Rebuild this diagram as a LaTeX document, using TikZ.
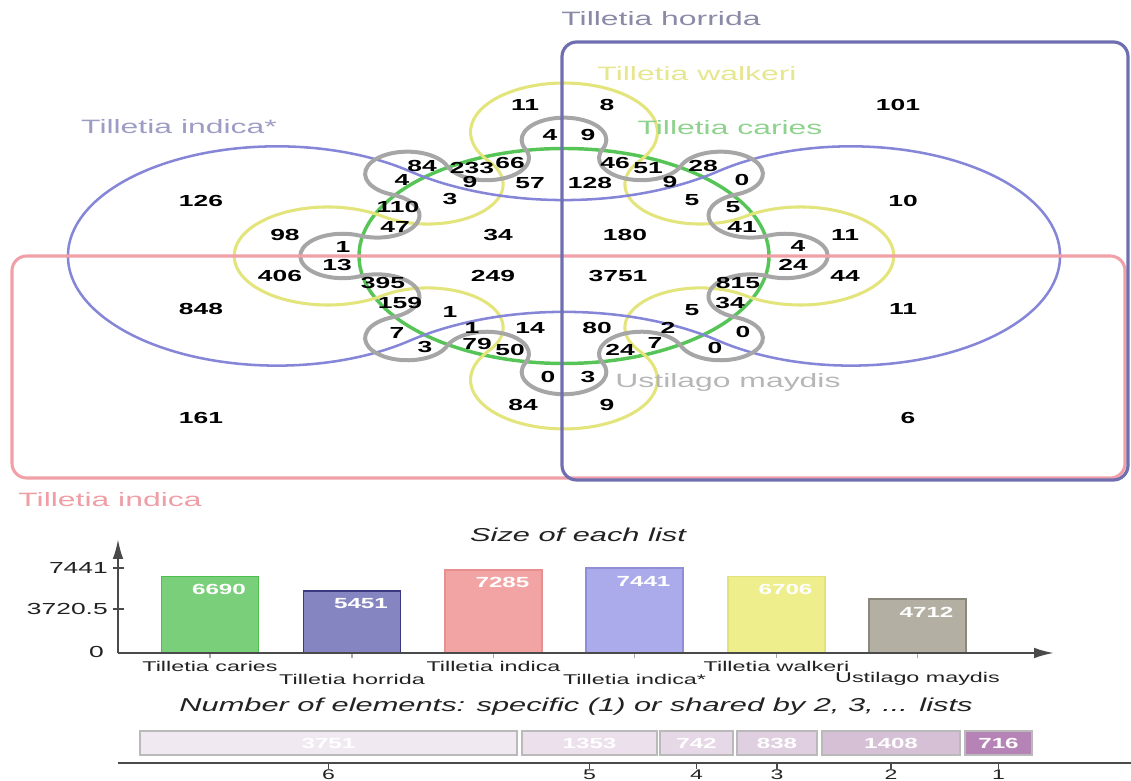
\documentclass[tikz,border=0pt]{standalone}
\usepackage{fontspec}
\setmainfont{Liberation Sans}
\newfontfamily\sfst[FakeStretch=1.65]{Liberation Sans}
\usetikzlibrary{arrows.meta}
\definecolor{horrC}{HTML}{6E6EB0}
\definecolor{indC}{HTML}{F0A0A6}
\definecolor{indsC}{HTML}{8686D8}
\definecolor{carC}{HTML}{56C456}
\definecolor{walC}{HTML}{E4E47C}
\definecolor{mayC}{HTML}{A6A6A6}
\definecolor{txtC}{HTML}{222222}
\definecolor{axC}{HTML}{4A4A4A}
\definecolor{lhorrC}{HTML}{8A8AA6}
\definecolor{lindsC}{HTML}{9C9CC4}
\definecolor{lwalC}{HTML}{E6E68E}
\definecolor{lcarC}{HTML}{8ED28E}
\definecolor{lindC}{HTML}{EE9EA4}
\definecolor{lmayC}{HTML}{B6B6B6}
\begin{document}
\begin{tikzpicture}[x=0.75pt,y=0.75pt,
  num/.style={font=\sfst\bfseries\fontsize{12}{14}\selectfont, inner sep=0pt, text=black},
  lab/.style={font=\sfst\fontsize{14.5}{16}\selectfont, inner sep=0pt},
  ttl/.style={font=\sfst\itshape\fontsize{14}{16}\selectfont, inner sep=0pt, text=txtC},
  tick/.style={font=\sfst\fontsize{12}{14}\selectfont, inner sep=0pt, text=txtC},
  xlab/.style={font=\sfst\fontsize{10.6}{12}\selectfont, inner sep=0pt, text=txtC},
  bval/.style={font=\sfst\bfseries\fontsize{11}{13}\selectfont, inner sep=0pt, text=white},
  axisline/.style={draw=axC, line width=1.6pt},
  seg/.style={draw=black!27, line width=0.8pt}]
\useasboundingbox (0,0) rectangle (1131,781);
\clip (0,0) rectangle (1131,781);

% ---------------- Venn shapes ----------------
\begin{scope}[shift={(564,525)}, xscale=205, yscale=107.5]
  % Tilletia caries (green circle)
  \draw[carC, line width=2.6pt] (0,0) circle (1);
  % Tilletia walkeri (yellow, 4 periods)
  \draw[walC, line width=2.3pt] (0,1.153) ++(216.17:0.456)
    arc[start angle=216.17, end angle=-36.17, radius=0.456]
    arc[start angle=143.83, end angle=306.17, radius=0.369]
    arc[start angle=126.17, end angle=-126.17, radius=0.456]
    arc[start angle=53.83, end angle=216.17, radius=0.369]
    arc[start angle=36.17, end angle=-216.17, radius=0.456]
    arc[start angle=-36.17, end angle=126.17, radius=0.369]
    arc[start angle=-53.83, end angle=-306.17, radius=0.456]
    arc[start angle=-126.17, end angle=36.17, radius=0.369] -- cycle;
  % Tilletia indica* (blue dumbbell)
  \draw[indsC, line width=1.9pt] (0,1.71) ++(230.69:1.19)
    arc[start angle=230.69, end angle=309.31, radius=1.19]
    arc[start angle=129.31, end angle=-129.31, radius=1.02]
    arc[start angle=50.69, end angle=129.31, radius=1.19]
    arc[start angle=309.31, end angle=50.69, radius=1.02] -- cycle;
  % Ustilago maydis (gray, 8 periods)
  \draw[mayC, line width=3pt] (0,1.08) ++(204.03:0.2067)
    arc[start angle=204.03, end angle=-24.03, radius=0.2067]
    arc[start angle=155.97, end angle=339.03, radius=0.2067]
    arc[start angle=159.03, end angle=-69.03, radius=0.2067]
    arc[start angle=110.97, end angle=294.03, radius=0.2067]
    arc[start angle=114.03, end angle=-114.03, radius=0.2067]
    arc[start angle=65.97, end angle=249.03, radius=0.2067]
    arc[start angle=69.03, end angle=-159.03, radius=0.2067]
    arc[start angle=20.97, end angle=204.03, radius=0.2067]
    arc[start angle=24.03, end angle=-204.03, radius=0.2067]
    arc[start angle=-24.03, end angle=159.03, radius=0.2067]
    arc[start angle=-20.97, end angle=-249.03, radius=0.2067]
    arc[start angle=-69.03, end angle=114.03, radius=0.2067]
    arc[start angle=-65.97, end angle=-294.03, radius=0.2067]
    arc[start angle=-114.03, end angle=69.03, radius=0.2067]
    arc[start angle=-110.97, end angle=-339.03, radius=0.2067]
    arc[start angle=-159.03, end angle=24.03, radius=0.2067] -- cycle;
\end{scope}
% Tilletia indica (red rectangle)
\draw[indC, line width=2.3pt, rounded corners=11pt] (12,303) rectangle (1125,525);
% Tilletia horrida (purple rectangle)
\draw[horrC, line width=2.4pt, rounded corners=11pt] (562,301) rectangle (1128,739);

% ---------------- set labels ----------------
\node[lab, text=lhorrC] (lhorr) at (661,762) {Tilletia horrida};
\node[lab, text=lwalC] (lwal) at (697,707) {Tilletia walkeri};
\node[lab, text=lcarC] (lcar) at (730,653) {Tilletia caries};
\node[lab, text=lindsC] (linds) at (179,654) {Tilletia indica*};
\node[lab, text=lindC] (lind) at (110,281) {Tilletia indica};
\node[lab, text=lmayC] (lmay) at (728,398) {Ustilago maydis};

% ---------------- region counts ----------------
\foreach \t/\x/\y [count=\i] in {126/201/580, 11/525/676, 8/607/676, 101/898/676,
  4/550/646, 9/588/646, 84/422/615, 233/472/613, 66/510/618, 46/615/618, 51/648/613,
  28/703/615, 4/402/601, 9/470/599, 57/530/598, 128/590/598, 9/670/599, 0/742/601,
  3/450/582, 5/692/581, 110/398/574, 5/733/574, 10/903/580, 47/395/554, 41/742/554,
  34/498/546, 180/625/546, 98/285/546, 11/845/546, 1/343/534, 4/798/535, 13/337/516,
  24/793/516, 406/280/505, 249/493/505, 3751/618/505, 44/845/505, 395/383/498,
  815/738/498, 159/400/478, 34/730/478, 848/201/472, 11/903/472, 1/450/469, 5/692/471,
  7/397/448, 0/743/449, 1/472/453, 2/668/453, 14/530/453, 80/597/453, 3/425/434,
  79/477/437, 50/510/431, 7/655/438, 24/620/431, 0/715/433, 0/548/404, 3/588/404,
  84/523/376, 9/607/376, 161/201/363, 6/908/363}
  \node[num] (v\i) at (\x,\y) {\t};

% ---------------- bar chart: size of each list ----------------
\node[ttl] (t1) at (578,246) {Size of each list};
\coordinate (org) at (118,128);
\coordinate (ytop) at (118,242);
\coordinate (xend) at (1054,128);
\foreach \c/\v/\h/\f/\d [count=\i] in {210/6690/76.42/7ACF7A/4DBF4D, 352/5451/62.27/8585C2/3A3A80,
  493.5/7285/83.22/F2A3A3/E89090, 634.5/7441/85/ABABEB/8F8FD6,
  776.5/6706/76.60/EEEE8C/E2E27A, 917.5/4712/53.83/B3AFA3/8A877D}{
  \definecolor{bf}{HTML}{\f}\definecolor{bd}{HTML}{\d}
  \filldraw[fill=bf, draw=bd, line width=1.3pt] (\c-48.5,128) rectangle (\c+48.5,128+\h);
  \node[bval] (bv\i) at (\c+9,128+\h-13) {\v};
  \draw[black!35, line width=0.8pt] (\c,128) -- (\c,123);
}
\draw[axisline, -{Latex[length=15pt,width=8pt]}] (org) -- (ytop);
\draw[axisline, -{Latex[length=15pt,width=8pt]}] (org) -- (xend);
\foreach \yy in {213,172}
  \draw[axC, line width=0.9pt] (113,\yy) -- (124,\yy);
\node[tick, anchor=east] (y1) at (108,213) {7441};
\node[tick, anchor=east] (y2) at (108,172) {3720.5};
\node[tick, anchor=east] (y3) at (104,129) {0};
\node[xlab] (x1) at (210,115) {Tilletia caries};
\node[xlab] (x2) at (352,102) {Tilletia horrida};
\node[xlab] (x3) at (493.5,115) {Tilletia indica};
\node[xlab] (x4) at (634.5,102) {Tilletia indica*};
\node[xlab] (x5) at (776.5,115) {Tilletia walkeri};
\node[xlab] (x6) at (917.5,102) {Ustilago maydis};

% ---------------- stacked bar: number of elements ----------------
\node[ttl] (t2) at (576,74) {Number of elements: specific (1) or shared by 2, 3, ... lists};
\foreach \a/\b/\v/\f/\k [count=\i] in {140/517/3751/F1E9F1/6, 522/657/1353/ECE0EC/5,
  660/733/742/E6D8E6/4, 737/817/838/E0CFE0/3, 822/960/1408/D6C0D6/2, 965/1032/716/B583B5/1}{
  \definecolor{sf}{HTML}{\f}
  \filldraw[seg, fill=sf] (\a,26) rectangle (\b,50);
  \node[bval] (s\i) at ({(\a+\b)/2},38) {\v};
  \draw[axC, line width=0.9pt] ({(\a+\b)/2},18) -- ({(\a+\b)/2},12);
  \node[tick, font=\sfst\fontsize{10.5}{12}\selectfont] (k\i) at ({(\a+\b)/2},6) {\k};
}
\coordinate (b0) at (118,18);
\coordinate (b1) at (1131,18);
\draw[axisline, line width=2pt] (b0) -- (b1);
\end{tikzpicture}
\end{document}
